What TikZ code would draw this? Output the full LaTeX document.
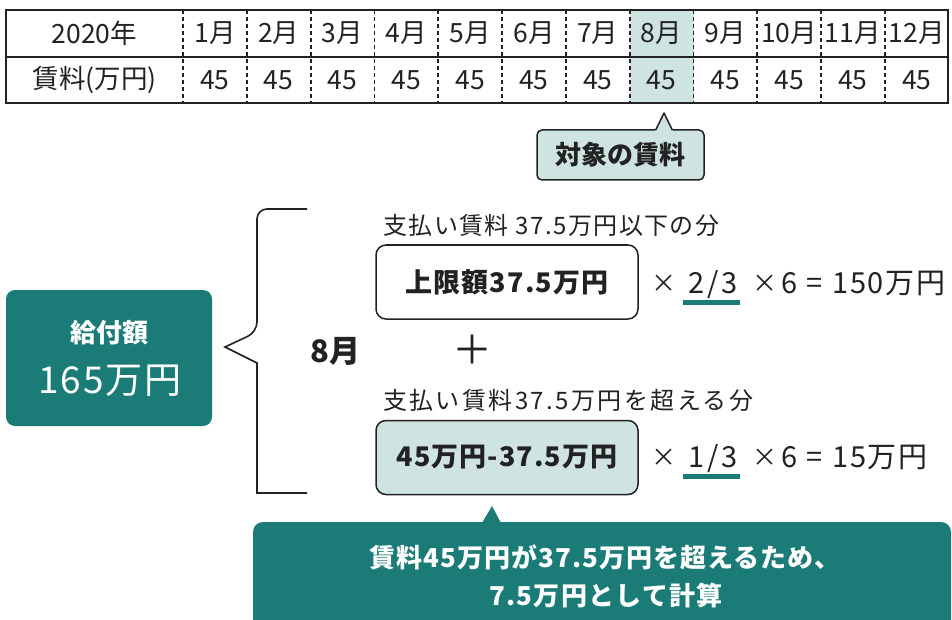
\documentclass[tikz,border=0pt]{standalone}
\usepackage{fontspec}
\setmainfont{Noto Sans CJK JP}
\definecolor{tealdark}{HTML}{1A7B77}
\definecolor{teallight}{HTML}{CFE3E2}
\definecolor{ink}{HTML}{222222}
\tikzset{
  fsz/.style={font=\fontsize{#1}{#1}\selectfont},
  bfsz/.style={font=\bfseries\fontsize{#1}{#1}\selectfont},
  fszls/.style 2 args={font=\fontsize{#1}{#1}\selectfont\addfontfeature{LetterSpace=#2}},
  bfszls/.style 2 args={font=\bfseries\fontsize{#1}{#1}\selectfont\addfontfeature{LetterSpace=#2}},
  cell/.style={fsz=26.5, inner sep=0, text=ink},
  rule/.style={line width=1.5, draw=ink},
  dashrule/.style={line width=1.8, draw=ink, dash pattern=on 4 off 3},
  valbox/.style={draw=ink, line width=1.5, rounded corners=10, minimum width=262, minimum height=74, inner sep=0, text=ink},
  label/.style={anchor=west, inner sep=0, text=ink},
  ftok/.style={inner sep=0, text=ink, fsz=29, anchor=base},
  times/.style={inner sep=0, text=ink, fsz=25, anchor=base},
  uline/.style={draw=tealdark, line width=5},
}
\begin{document}
\begin{tikzpicture}[x=1pt,y=-1pt]
\useasboundingbox (0,0) rectangle (952,620);
\fill[white] (0,0) rectangle (952,620);
% ---- table
\fill[teallight] (630,10) rectangle (694,103);
\draw[rule] (6,10) rectangle (948,103);
\draw[rule] (6,57) -- (948,57);
\foreach \k in {0,...,11}
  \draw[dashrule] ({183+63.8*\k},10) -- ({183+63.8*\k},103);
\node[cell] (h0) at (94.5,33.5) {2020年};
\node[cell] (r0) at (94.5,80) {賃料(万円)};
\foreach \k in {1,...,12} {
  \node[cell] (h\k) at ({183+63.8*(\k-0.5)},33.5) {\k 月};
  \node[cell] (r\k) at ({183+63.8*(\k-0.5)},80) {45};
}
% ---- callout: target rent
\filldraw[fill=teallight, rule, rounded corners=5] (537,130) rectangle (704,180);
\fill[teallight] (655,131.5) -- (664,113) -- (673,131.5) -- cycle;
\draw[rule, line join=round] (655.7,130) -- (664,113) -- (672.3,130);
\node[bfsz=26, inner sep=0, text=ink] (target) at (620.5,155) {対象の賃料};
% ---- total box
\node[fill=tealdark, rounded corners=9, minimum width=206, minimum height=136, inner sep=0] (kyufu) at (109,358) {};
\node[bfsz=26, text=white, inner sep=0] (kyufuA) at (109,333) {給付額};
\node[fszls={37}{5}, text=white, inner sep=0] (kyufuB) at (110,381) {165万円};
% ---- brace
\draw[rule, line width=1.6] (307,209) [rounded corners=10] -- (257,209) -- (257,332)
  [sharp corners] -- (225,347) -- (257,363) -- (257,493) [rounded corners=10] -- (307,493);
\node[bfsz=31, inner sep=0, text=ink] (aug) at (335.5,351) {8月};
% ---- parts
\node[label, fszls={24}{6}] (lab1) at (383,225) {支払い賃料 37.5万円以下の分};
\node[valbox, fill=white, bfszls={27}{4}] (box1) at (507,282) {上限額37.5万円};
\node[fsz=40, inner sep=0, text=ink] (plus) at (472,350) {＋};
\node[label, fszls={24}{10}] (lab2) at (383,400) {支払い賃料37.5万円を超える分};
\node[valbox, fill=teallight, bfszls={27}{4}] (box2) at (507,457.5) {45万円-37.5万円};
% formula 1
\node[times] (f1a) at (664,292) {×};
\node[ftok, fszls={29}{10}] (f1b) at (713,293.6) {2/3};
\node[times] (f1c) at (765,292) {×};
\node[ftok] (f1d) at (790,293.6) {6};
\node[ftok] (f1e) at (814.5,293.6) {=};
\node[ftok, anchor=base west, fszls={29}{6}] (f1f) at (832,293.6) {150万円};
% formula 2
\node[times] (f2a) at (664,466) {×};
\node[ftok, fszls={29}{10}] (f2b) at (713,467.6) {1/3};
\node[times] (f2c) at (765,466) {×};
\node[ftok] (f2d) at (790,467.6) {6};
\node[ftok] (f2e) at (814.5,467.6) {=};
\node[ftok, anchor=base west, fszls={29}{6}] (f2f) at (832,467.6) {15万円};
\draw[uline] (683,302) -- (740,302);
\draw[uline] (683,476) -- (740,476);
% ---- bottom note
\fill[tealdark, rounded corners=10] (253,522) rectangle (951,660);
\fill[tealdark] (482,523) -- (492,506) -- (501,523) -- cycle;
\node[bfszls={26}{4}, text=white, inner sep=0] (note1) at (605,557) {賃料45万円が37.5万円を超えるため、};
\node[bfszls={26}{5}, text=white, inner sep=0] (note2) at (606,595) {7.5万円として計算};
\end{tikzpicture}
\end{document}
